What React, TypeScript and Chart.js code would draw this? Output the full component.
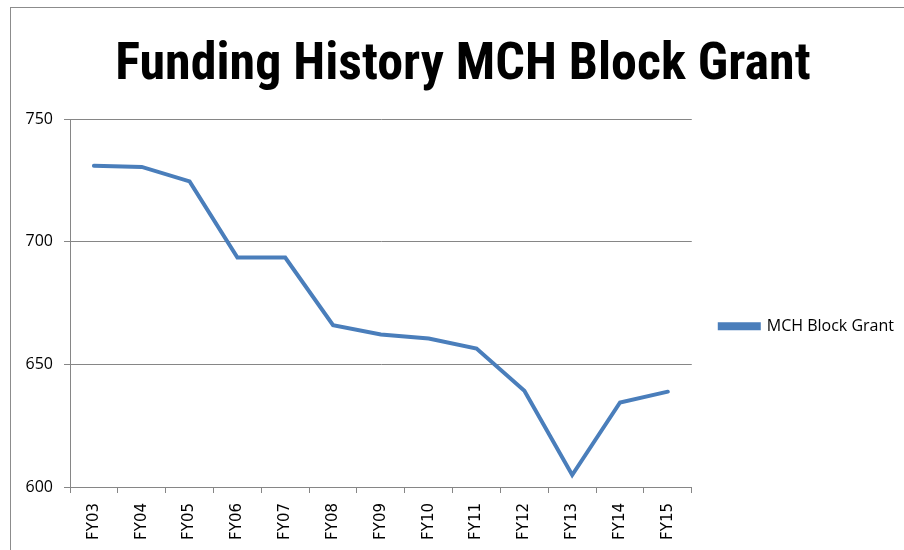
import React, { useEffect, useRef } from "react";
import { Chart, registerables } from "chart.js";

Chart.register(...registerables);

const categories = ["FY03", "FY04", "FY05", "FY06", "FY07", "FY08", "FY09", "FY10", "FY11", "FY12", "FY13", "FY14", "FY15"];
const grantValues = [731.1, 730.6, 724.7, 693.6, 693.6, 666.0, 662.2, 660.6, 656.5, 639.3, 604.9, 634.5, 638.9];
const seriesName = "MCH Block Grant";
const chartTitle = "Funding History MCH Block Grant";
const yMin = 600;
const yMax = 750;
const yStep = 50;

export default function App() {
  const canvasRef = useRef<HTMLCanvasElement | null>(null);

  useEffect(() => {
    const canvas = canvasRef.current;
    if (!canvas) return;
    const gridColor = "#868686";
    const chart = new Chart(canvas, {
      type: "line",
      data: {
        labels: categories,
        datasets: [
          {
            label: seriesName,
            data: grantValues,
            borderColor: "#4A7EBB",
            backgroundColor: "#4A7EBB",
            borderWidth: 4,
            pointRadius: 0,
            tension: 0,
            borderCapStyle: "round",
            borderJoinStyle: "miter",
          },
        ],
      },
      options: {
        animation: false,
        responsive: false,
        maintainAspectRatio: false,
        layout: { padding: { top: 22, right: 0, bottom: 0, left: 22 } },
        plugins: {
          title: {
            display: true,
            text: chartTitle,
            color: "#000",
            font: { family: "'Liberation Sans Narrow', 'Roboto Condensed', 'Open Sans'", size: 52, weight: "bold" },
            padding: { top: 13, bottom: 22 },
          },
          legend: {
            display: true,
            position: "right",
            align: "center",
            title: {
              display: true,
              text: " ",
              font: { size: 2 },
              padding: { top: 78, bottom: 0 },
            },
            labels: {
              color: "#000",
              boxWidth: 39,
              boxHeight: 4,
              padding: 28,
              font: { family: "'Open Sans'", size: 16 },
            },
          },
          tooltip: { enabled: false },
        },
        scales: {
          x: {
            offset: true,
            grid: {
              display: true,
              offset: true,
              drawOnChartArea: false,
              drawTicks: true,
              tickLength: 6,
              color: gridColor,
            },
            border: { display: true, color: gridColor, width: 1 },
            ticks: {
              color: "#000",
              minRotation: 90,
              maxRotation: 90,
              autoSkip: false,
              padding: 10,
              font: { family: "'DejaVu Sans'", size: 15 },
            },
            afterFit: (s: any) => {
              s.height = 63;
            },
          },
          y: {
            min: yMin,
            max: yMax,
            grid: {
              color: gridColor,
              tickLength: 6,
              drawTicks: true,
            },
            border: { display: true, color: gridColor, width: 1 },
            ticks: {
              stepSize: yStep,
              color: "#000",
              padding: 11,
              font: { family: "'Open Sans'", size: 16 },
            },
            afterFit: (s: any) => {
              s.width = 48;
            },
          },
        },
      },
    });
    return () => chart.destroy();
  }, []);

  return (
    <div style={{ position: "fixed", left: 0, top: 0, width: 904, height: 550, background: "#fff", overflow: "hidden" }}>
      <div
        style={{
          position: "absolute",
          left: 10,
          top: 7,
          width: 1000,
          height: 1000,
          borderLeft: "1px solid #8c8c8c",
          borderTop: "1px solid #8c8c8c",
        }}
      />
      <canvas ref={canvasRef} width={904} height={550} style={{ position: "absolute", left: 0, top: 0 }} />
    </div>
  );
}
